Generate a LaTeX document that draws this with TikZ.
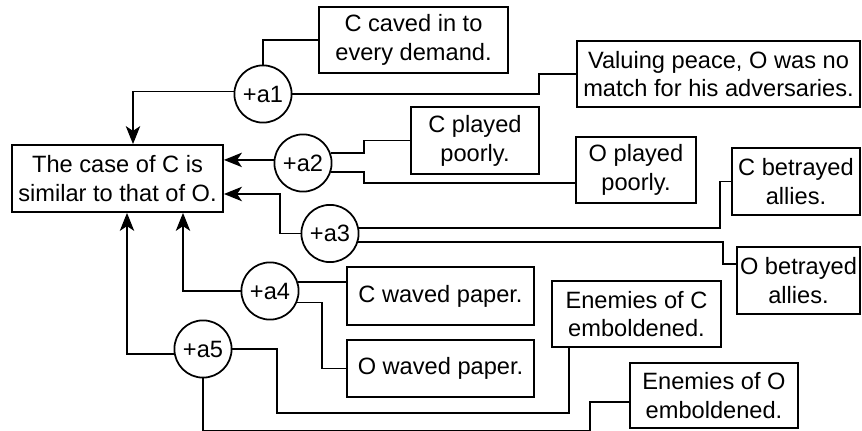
\documentclass[tikz,border=0pt]{standalone}
\usepackage{fontspec}
\setmainfont{Liberation Sans}
\usetikzlibrary{arrows.meta, calc}

\begin{document}
\begin{tikzpicture}[x=0.025cm, y=-0.025cm, line width=1.25pt,
    every node/.style={font=\fontsize{16.8}{20.5}\selectfont},
    box/.style={draw, align=center, inner sep=0pt},
    arg/.style={draw, circle, inner sep=0pt, minimum size=1.43cm},
    arr/.style={-{Stealth[length=0.45cm, width=0.36cm, inset=0.12cm]}}]
    \useasboundingbox (0,0) rectangle (862,431);

    % The claim
    \node[box, minimum width=5.275cm, minimum height=1.675cm] (claim) at (117.5,178.5) {The case of C is\\similar to that of O.};

    % The premises
    \node[box, minimum width=4.725cm, minimum height=1.65cm] (caved) at (413.5,40) {C caved in to\\every demand.};
    \node[box, minimum width=7.075cm, minimum height=1.65cm] (peace) at (718.5,74) {Valuing peace, O was no\\match for his adversaries.};
    \node[box, minimum width=3.2cm, minimum height=1.675cm] (cplayed) at (475,140.5) {C played\\poorly.};
    \node[box, minimum width=3.0cm, minimum height=1.65cm] (oplayed) at (636,170) {O played\\poorly.};
    \node[box, minimum width=3.2cm, minimum height=1.675cm] (cbetray) at (796,181.5) {C betrayed\\allies.};
    \node[box, minimum width=3.075cm, minimum height=1.675cm] (obetray) at (798.5,280.5) {O betrayed\\allies.};
    \node[box, minimum width=4.675cm, minimum height=1.45cm] (cwaved) at (440.5,296) {C waved paper.};
    \node[box, minimum width=4.675cm, minimum height=1.425cm] (owaved) at (440.5,368.5) {O waved paper.};
    \node[box, minimum width=4.225cm, minimum height=1.65cm] (enemc) at (636.5,314) {Enemies of C\\emboldened.};
    \node[box, minimum width=4.2cm, minimum height=1.625cm] (enemo) at (714,395.5) {Enemies of O\\emboldened.};

    % The arguments
    \node[arg] (a1) at (263,94) {+a1};
    \node[arg] (a2) at (303,163) {+a2};
    \node[arg] (a3) at (330,233.5) {+a3};
    \node[arg] (a4) at (270,291) {+a4};
    \node[arg] (a5) at (203,349) {+a5};

    % Arguments into the claim
    \draw[arr] (a1.175) -| ($(claim.north)+(15.5,0)$);
    \draw[arr] (a2.174) -- (a2.174 -| claim.east);
    \draw[arr] (a3.west) -- ++(-20.5,0) |- ($(claim.east)+(0,15.5)$);
    \draw[arr] (a4.west) -| ($(claim.south)+(65.5,0)$);
    \draw[arr] (a5.190) -| ($(claim.south)+(9.5,0)$);

    % Premises into the arguments
    \draw (caved.west) -| (a1.north);
    \draw (a1.east) -- ++(246.5,0) |- (peace.west);
    \draw (a2.20) -- ++(33,0) |- (cplayed.west);
    \draw (a2.-18) -- ++(33,0) |- ($(oplayed.west)+(0,13)$);
    \draw (a3.11) -- ++(361,0) |- (cbetray.west);
    \draw (a3.-17) -- ++(365,0) |- ($(obetray.west)+(0,-16.5)$);
    \draw (a4.18) -- (a4.18 -| cwaved.west);
    \draw (a4.-23) -- ++(25,0) |- (owaved.west);
    \draw (a5.east) -- ++(44.5,0) -- ++(0,64) -| ($(enemc.south)+(-67.5,0)$);
    \draw (a5.south) -- ++(0,52) -| ($(enemo.west)+(-39,6.5)$) -- ($(enemo.west)+(0,6.5)$);
\end{tikzpicture}
\end{document}
